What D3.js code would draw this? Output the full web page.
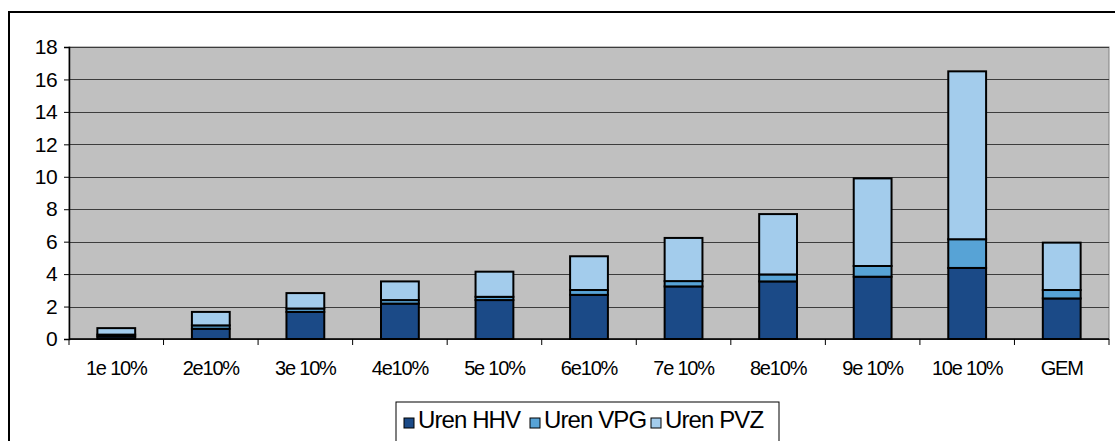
<!DOCTYPE html>
<html>
<head>
<meta charset="utf-8">
<script src="https://cdn.jsdelivr.net/npm/d3@7"></script>
<style>
  body { margin: 0; background: #fff; }
  #chart { width: 1115px; height: 441px; }
  text { font-family: "Liberation Sans", Arial, sans-serif; fill: #000; }
</style>
</head>
<body>
<div id="chart"></div>
<script>
// data
const categories = ["1e 10%", "2e10%", "3e 10%", "4e10%", "5e 10%", "6e10%", "7e 10%", "8e10%", "9e 10%", "10e 10%", "GEM"];
const seriesNames = ["Uren HHV", "Uren VPG", "Uren PVZ"];
const urenHHV = [0.15, 0.63, 1.67, 2.18, 2.40, 2.72, 3.24, 3.55, 3.84, 4.38, 2.50];
const urenVPG = [0.12, 0.21, 0.21, 0.22, 0.20, 0.30, 0.33, 0.43, 0.66, 1.77, 0.52];
const urenPVZ = [0.40, 0.83, 0.95, 1.15, 1.55, 2.08, 2.66, 3.72, 5.40, 10.35, 2.92];
const yTicks = [0, 2, 4, 6, 8, 10, 12, 14, 16, 18];

const colors = ["#1b4a87", "#57a3d6", "#a3ccec"];

/*
  SVG CANVAS
*/
const width = 1115, height = 441;
const plot = {left: 69, right: 1109, top: 47, bottom: 339};

const canvas = d3.select("#chart")
    .append("svg")
    .attr("width", width)
    .attr("height", height);

// outer frame (continues past right and bottom edge)
canvas.append("rect")
    .attr("x", 9).attr("y", 12)
    .attr("width", 1120).attr("height", 450)
    .attr("fill", "#fff")
    .attr("stroke", "#000")
    .attr("stroke-width", 2);

/*
  SCALES
*/
const xScale = d3.scaleBand()
    .domain(categories)
    .range([plot.left, plot.right])
    .paddingInner(0.6)
    .paddingOuter(0.3);

const yScale = d3.scaleLinear()
    .domain([0, 18])
    .range([plot.bottom, plot.top]);

// plot background
canvas.append("rect")
    .attr("x", plot.left).attr("y", plot.top)
    .attr("width", plot.right - plot.left)
    .attr("height", plot.bottom - plot.top)
    .attr("fill", "#c0c0c0")
    .attr("stroke", "#808080")
    .attr("stroke-width", 1);

// gridlines
canvas.append("g")
    .selectAll("line")
    .data(yTicks)
    .enter()
    .append("line")
        .attr("x1", plot.left)
        .attr("x2", plot.right)
        .attr("y1", d => Math.round(yScale(d)) + 0.5)
        .attr("y2", d => Math.round(yScale(d)) + 0.5)
        .attr("stroke", "#3c3c3c")
        .attr("stroke-width", 1);

/*
  STACKED BARS
*/
const rows = categories.map((c, i) => ({cat: c, hhv: urenHHV[i], vpg: urenVPG[i], pvz: urenPVZ[i]}));
const stack = d3.stack().keys(["hhv", "vpg", "pvz"]);
const layers = stack(rows);

canvas.append("g")
    .selectAll("g")
    .data(layers)
    .enter()
    .append("g")
        .attr("fill", (d, i) => colors[i])
    .selectAll("rect")
    .data(d => d)
    .enter()
    .append("rect")
        .attr("x", d => xScale(d.data.cat))
        .attr("y", d => yScale(d[1]))
        .attr("width", xScale.bandwidth())
        .attr("height", d => yScale(d[0]) - yScale(d[1]))
        .attr("stroke", "#000")
        .attr("stroke-width", 2);

/*
  AXES
*/
const yAxis = canvas.append("g")
    .attr("transform", `translate(${plot.left},0)`)
    .call(d3.axisLeft(yScale).tickValues(yTicks).tickSize(5).tickPadding(7));
yAxis.select(".domain").attr("stroke", "#000").attr("stroke-width", 1.5);
yAxis.selectAll("line").attr("stroke", "#000");
yAxis.selectAll("text")
    .style("font-size", "21px")
    .attr("letter-spacing", "-0.6px");

// x axis: ticks at category boundaries
const bounds = d3.range(categories.length + 1).map(i => plot.left + i * (plot.right - plot.left) / categories.length);
const xAxis = canvas.append("g");
xAxis.append("line")
    .attr("x1", plot.left).attr("x2", plot.right)
    .attr("y1", plot.bottom).attr("y2", plot.bottom)
    .attr("stroke", "#000").attr("stroke-width", 1.5);
xAxis.selectAll(".tk")
    .data(bounds)
    .enter()
    .append("line")
        .attr("x1", d => d).attr("x2", d => d)
        .attr("y1", plot.bottom).attr("y2", plot.bottom + 6)
        .attr("stroke", "#000");
xAxis.selectAll(".lbl")
    .data(categories)
    .enter()
    .append("text")
        .attr("x", d => xScale(d) + xScale.bandwidth() / 2)
        .attr("y", 375)
        .attr("text-anchor", "middle")
        .attr("letter-spacing", "-1.2px")
        .style("font-size", "20px")
        .text(d => d);

/*
  LEGEND
*/
const legend = canvas.append("g").attr("transform", "translate(396,402)");
legend.append("rect")
    .attr("x", 0).attr("y", 0)
    .attr("width", 383).attr("height", 50)
    .attr("fill", "#fff")
    .attr("stroke", "#000")
    .attr("stroke-width", 1);

const itemX = [8, 134, 255];
const item = legend.selectAll(".item")
    .data(seriesNames)
    .enter()
    .append("g")
        .attr("transform", (d, i) => `translate(${itemX[i]},0)`);
item.append("rect")
    .attr("x", 0).attr("y", 16)
    .attr("width", 10).attr("height", 10)
    .attr("fill", (d, i) => colors[i])
    .attr("stroke", "#000")
    .attr("stroke-width", 1);
item.append("text")
    .attr("x", 14)
    .attr("y", 26)
    .attr("letter-spacing", "-0.9px")
    .style("font-size", "24px")
    .text(d => d);
</script>
</body>
</html>
